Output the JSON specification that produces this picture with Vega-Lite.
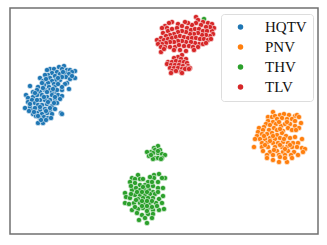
{"$schema":"https://vega.github.io/schema/vega-lite/v6.json","width":308,"height":226,"autosize":"none","padding":{"left":10,"top":8,"right":9,"bottom":11},"background":"white",
"data":{"values":[
{"s":"HQTV","x":50,"y":69},{"s":"HQTV","x":47,"y":70},{"s":"HQTV","x":54,"y":69},{"s":"HQTV","x":59,"y":67},{"s":"HQTV","x":64,"y":66},{"s":"HQTV","x":67,"y":70},{"s":"HQTV","x":70,"y":70},{"s":"HQTV","x":75,"y":71},{"s":"HQTV","x":75,"y":78},{"s":"HQTV","x":72,"y":72},{"s":"HQTV","x":62,"y":69},{"s":"HQTV","x":57,"y":72},{"s":"HQTV","x":52,"y":73},{"s":"HQTV","x":48,"y":75},{"s":"HQTV","x":45,"y":75},{"s":"HQTV","x":40,"y":78},{"s":"HQTV","x":43,"y":81},{"s":"HQTV","x":50,"y":78},{"s":"HQTV","x":55,"y":76},{"s":"HQTV","x":60,"y":74},{"s":"HQTV","x":65,"y":73},{"s":"HQTV","x":69,"y":74},{"s":"HQTV","x":66,"y":77},{"s":"HQTV","x":60,"y":80},{"s":"HQTV","x":56,"y":80},{"s":"HQTV","x":52,"y":81},{"s":"HQTV","x":48,"y":83},{"s":"HQTV","x":44,"y":85},{"s":"HQTV","x":42,"y":83},{"s":"HQTV","x":67,"y":83},{"s":"HQTV","x":65,"y":84},{"s":"HQTV","x":70,"y":79},{"s":"HQTV","x":72,"y":76},{"s":"HQTV","x":62,"y":77},{"s":"HQTV","x":58,"y":78},{"s":"HQTV","x":54,"y":84},{"s":"HQTV","x":49,"y":87},{"s":"HQTV","x":55,"y":87},{"s":"HQTV","x":30,"y":86},{"s":"HQTV","x":38,"y":87},{"s":"HQTV","x":33,"y":92},{"s":"HQTV","x":40,"y":92},{"s":"HQTV","x":37,"y":90},{"s":"HQTV","x":45,"y":90},{"s":"HQTV","x":50,"y":90},{"s":"HQTV","x":47,"y":92},{"s":"HQTV","x":55,"y":92},{"s":"HQTV","x":62,"y":90},{"s":"HQTV","x":69,"y":89},{"s":"HQTV","x":57,"y":90},{"s":"HQTV","x":52,"y":92},{"s":"HQTV","x":26,"y":95},{"s":"HQTV","x":28,"y":98},{"s":"HQTV","x":33,"y":97},{"s":"HQTV","x":37,"y":95},{"s":"HQTV","x":42,"y":95},{"s":"HQTV","x":47,"y":97},{"s":"HQTV","x":52,"y":95},{"s":"HQTV","x":58,"y":95},{"s":"HQTV","x":62,"y":96},{"s":"HQTV","x":60,"y":99},{"s":"HQTV","x":28,"y":102},{"s":"HQTV","x":32,"y":100},{"s":"HQTV","x":35,"y":103},{"s":"HQTV","x":40,"y":100},{"s":"HQTV","x":45,"y":100},{"s":"HQTV","x":50,"y":100},{"s":"HQTV","x":55,"y":100},{"s":"HQTV","x":57,"y":103},{"s":"HQTV","x":25,"y":108},{"s":"HQTV","x":30,"y":107},{"s":"HQTV","x":33,"y":110},{"s":"HQTV","x":38,"y":105},{"s":"HQTV","x":42,"y":105},{"s":"HQTV","x":47,"y":104},{"s":"HQTV","x":52,"y":106},{"s":"HQTV","x":30,"y":104},{"s":"HQTV","x":35,"y":108},{"s":"HQTV","x":40,"y":110},{"s":"HQTV","x":45,"y":109},{"s":"HQTV","x":50,"y":111},{"s":"HQTV","x":55,"y":109},{"s":"HQTV","x":37,"y":113},{"s":"HQTV","x":33,"y":114},{"s":"HQTV","x":42,"y":114},{"s":"HQTV","x":47,"y":113},{"s":"HQTV","x":52,"y":114},{"s":"HQTV","x":61,"y":113},{"s":"HQTV","x":62,"y":114},{"s":"HQTV","x":36,"y":116},{"s":"HQTV","x":40,"y":118},{"s":"HQTV","x":44,"y":117},{"s":"HQTV","x":48,"y":118},{"s":"HQTV","x":51,"y":118},{"s":"HQTV","x":38,"y":123},{"s":"HQTV","x":43,"y":123},{"s":"HQTV","x":46,"y":120},{"s":"HQTV","x":41,"y":120},{"s":"HQTV","x":34,"y":112},{"s":"HQTV","x":29,"y":111},{"s":"HQTV","x":43,"y":88},{"s":"HQTV","x":53,"y":89},{"s":"HQTV","x":35,"y":93},{"s":"HQTV","x":44,"y":97},{"s":"HQTV","x":55,"y":97},{"s":"HQTV","x":37,"y":100},{"s":"HQTV","x":48,"y":102},{"s":"HQTV","x":54,"y":103},{"s":"HQTV","x":40,"y":107},{"s":"HQTV","x":50,"y":108},{"s":"HQTV","x":46,"y":111},{"s":"HQTV","x":38,"y":116},{"s":"HQTV","x":62,"y":87},{"s":"HQTV","x":58,"y":84},{"s":"HQTV","x":46,"y":79},{"s":"HQTV","x":63,"y":72},
{"s":"PNV","x":273,"y":112},{"s":"PNV","x":268,"y":117},{"s":"PNV","x":272,"y":117},{"s":"PNV","x":275,"y":116},{"s":"PNV","x":280,"y":115},{"s":"PNV","x":284,"y":114},{"s":"PNV","x":289,"y":115},{"s":"PNV","x":295,"y":116},{"s":"PNV","x":297,"y":115},{"s":"PNV","x":299,"y":117},{"s":"PNV","x":277,"y":119},{"s":"PNV","x":282,"y":118},{"s":"PNV","x":287,"y":119},{"s":"PNV","x":292,"y":119},{"s":"PNV","x":295,"y":121},{"s":"PNV","x":301,"y":123},{"s":"PNV","x":268,"y":121},{"s":"PNV","x":273,"y":122},{"s":"PNV","x":266,"y":124},{"s":"PNV","x":270,"y":125},{"s":"PNV","x":276,"y":124},{"s":"PNV","x":281,"y":126},{"s":"PNV","x":285,"y":124},{"s":"PNV","x":290,"y":124},{"s":"PNV","x":295,"y":126},{"s":"PNV","x":299,"y":128},{"s":"PNV","x":259,"y":128},{"s":"PNV","x":264,"y":127},{"s":"PNV","x":263,"y":130},{"s":"PNV","x":258,"y":132},{"s":"PNV","x":269,"y":130},{"s":"PNV","x":274,"y":128},{"s":"PNV","x":277,"y":130},{"s":"PNV","x":283,"y":131},{"s":"PNV","x":288,"y":128},{"s":"PNV","x":292,"y":130},{"s":"PNV","x":257,"y":136},{"s":"PNV","x":262,"y":134},{"s":"PNV","x":267,"y":134},{"s":"PNV","x":272,"y":133},{"s":"PNV","x":277,"y":135},{"s":"PNV","x":282,"y":133},{"s":"PNV","x":286,"y":136},{"s":"PNV","x":255,"y":139},{"s":"PNV","x":260,"y":139},{"s":"PNV","x":265,"y":139},{"s":"PNV","x":270,"y":138},{"s":"PNV","x":275,"y":139},{"s":"PNV","x":280,"y":138},{"s":"PNV","x":290,"y":138},{"s":"PNV","x":295,"y":137},{"s":"PNV","x":302,"y":139},{"s":"PNV","x":254,"y":147},{"s":"PNV","x":262,"y":143},{"s":"PNV","x":267,"y":143},{"s":"PNV","x":273,"y":143},{"s":"PNV","x":278,"y":143},{"s":"PNV","x":283,"y":142},{"s":"PNV","x":288,"y":143},{"s":"PNV","x":293,"y":143},{"s":"PNV","x":298,"y":143},{"s":"PNV","x":262,"y":147},{"s":"PNV","x":268,"y":147},{"s":"PNV","x":275,"y":147},{"s":"PNV","x":282,"y":147},{"s":"PNV","x":287,"y":147},{"s":"PNV","x":292,"y":147},{"s":"PNV","x":297,"y":147},{"s":"PNV","x":302,"y":148},{"s":"PNV","x":305,"y":149},{"s":"PNV","x":263,"y":151},{"s":"PNV","x":270,"y":152},{"s":"PNV","x":277,"y":151},{"s":"PNV","x":283,"y":152},{"s":"PNV","x":288,"y":151},{"s":"PNV","x":294,"y":152},{"s":"PNV","x":303,"y":152},{"s":"PNV","x":267,"y":155},{"s":"PNV","x":273,"y":155},{"s":"PNV","x":279,"y":155},{"s":"PNV","x":285,"y":155},{"s":"PNV","x":291,"y":155},{"s":"PNV","x":298,"y":155},{"s":"PNV","x":267,"y":158},{"s":"PNV","x":273,"y":160},{"s":"PNV","x":279,"y":162},{"s":"PNV","x":287,"y":162},{"s":"PNV","x":285,"y":158},{"s":"PNV","x":292,"y":158},{"s":"PNV","x":280,"y":157},{"s":"PNV","x":279,"y":122},{"s":"PNV","x":287,"y":122},{"s":"PNV","x":280,"y":129},{"s":"PNV","x":296,"y":130},{"s":"PNV","x":273,"y":136},{"s":"PNV","x":264,"y":136},{"s":"PNV","x":284,"y":139},{"s":"PNV","x":270,"y":141},{"s":"PNV","x":280,"y":145},{"s":"PNV","x":290,"y":145},{"s":"PNV","x":265,"y":145},{"s":"PNV","x":274,"y":150},{"s":"PNV","x":285,"y":149},
{"s":"THV","x":204,"y":19},{"s":"THV","x":158,"y":146},{"s":"THV","x":154,"y":148},{"s":"THV","x":151,"y":152},{"s":"THV","x":147,"y":152},{"s":"THV","x":155,"y":150},{"s":"THV","x":160,"y":150},{"s":"THV","x":153,"y":153},{"s":"THV","x":158,"y":153},{"s":"THV","x":162,"y":154},{"s":"THV","x":165,"y":155},{"s":"THV","x":149,"y":156},{"s":"THV","x":155,"y":158},{"s":"THV","x":158,"y":158},{"s":"THV","x":162,"y":158},{"s":"THV","x":153,"y":159},{"s":"THV","x":161,"y":159},{"s":"THV","x":158,"y":151},{"s":"THV","x":151,"y":155},{"s":"THV","x":138,"y":175},{"s":"THV","x":159,"y":174},{"s":"THV","x":154,"y":175},{"s":"THV","x":165,"y":178},{"s":"THV","x":162,"y":178},{"s":"THV","x":132,"y":178},{"s":"THV","x":135,"y":179},{"s":"THV","x":140,"y":179},{"s":"THV","x":143,"y":179},{"s":"THV","x":148,"y":182},{"s":"THV","x":154,"y":178},{"s":"THV","x":130,"y":182},{"s":"THV","x":135,"y":183},{"s":"THV","x":140,"y":185},{"s":"THV","x":145,"y":185},{"s":"THV","x":153,"y":186},{"s":"THV","x":158,"y":188},{"s":"THV","x":163,"y":188},{"s":"THV","x":132,"y":190},{"s":"THV","x":136,"y":188},{"s":"THV","x":140,"y":190},{"s":"THV","x":145,"y":190},{"s":"THV","x":149,"y":190},{"s":"THV","x":153,"y":192},{"s":"THV","x":125,"y":193},{"s":"THV","x":135,"y":195},{"s":"THV","x":140,"y":195},{"s":"THV","x":145,"y":195},{"s":"THV","x":150,"y":194},{"s":"THV","x":155,"y":194},{"s":"THV","x":163,"y":196},{"s":"THV","x":126,"y":197},{"s":"THV","x":130,"y":198},{"s":"THV","x":138,"y":199},{"s":"THV","x":143,"y":198},{"s":"THV","x":148,"y":198},{"s":"THV","x":153,"y":198},{"s":"THV","x":159,"y":199},{"s":"THV","x":125,"y":203},{"s":"THV","x":129,"y":204},{"s":"THV","x":134,"y":203},{"s":"THV","x":140,"y":203},{"s":"THV","x":145,"y":203},{"s":"THV","x":150,"y":203},{"s":"THV","x":156,"y":203},{"s":"THV","x":162,"y":203},{"s":"THV","x":132,"y":210},{"s":"THV","x":138,"y":209},{"s":"THV","x":143,"y":208},{"s":"THV","x":148,"y":208},{"s":"THV","x":153,"y":210},{"s":"THV","x":159,"y":210},{"s":"THV","x":164,"y":209},{"s":"THV","x":137,"y":213},{"s":"THV","x":142,"y":215},{"s":"THV","x":148,"y":214},{"s":"THV","x":153,"y":214},{"s":"THV","x":139,"y":220},{"s":"THV","x":145,"y":218},{"s":"THV","x":152,"y":218},{"s":"THV","x":147,"y":223},{"s":"THV","x":158,"y":182},{"s":"THV","x":152,"y":182},{"s":"THV","x":137,"y":192},{"s":"THV","x":142,"y":192},{"s":"THV","x":147,"y":192},{"s":"THV","x":152,"y":201},{"s":"THV","x":142,"y":201},{"s":"THV","x":147,"y":201},{"s":"THV","x":147,"y":206},{"s":"THV","x":152,"y":207},{"s":"THV","x":142,"y":206},{"s":"THV","x":143,"y":187},{"s":"THV","x":148,"y":186},{"s":"THV","x":136,"y":200},{"s":"THV","x":131,"y":194},{"s":"THV","x":135,"y":207},{"s":"THV","x":157,"y":206},{"s":"THV","x":158,"y":192},{"s":"THV","x":147,"y":211},{"s":"THV","x":150,"y":177},{"s":"THV","x":131,"y":186},
{"s":"TLV","x":196,"y":17},{"s":"TLV","x":198,"y":20},{"s":"TLV","x":203,"y":22},{"s":"TLV","x":208,"y":23},{"s":"TLV","x":212,"y":24},{"s":"TLV","x":214,"y":28},{"s":"TLV","x":212,"y":31},{"s":"TLV","x":213,"y":34},{"s":"TLV","x":210,"y":27},{"s":"TLV","x":206,"y":27},{"s":"TLV","x":201,"y":25},{"s":"TLV","x":196,"y":23},{"s":"TLV","x":192,"y":25},{"s":"TLV","x":188,"y":23},{"s":"TLV","x":185,"y":22},{"s":"TLV","x":178,"y":24},{"s":"TLV","x":172,"y":22},{"s":"TLV","x":169,"y":23},{"s":"TLV","x":165,"y":26},{"s":"TLV","x":162,"y":28},{"s":"TLV","x":167,"y":28},{"s":"TLV","x":163,"y":33},{"s":"TLV","x":168,"y":31},{"s":"TLV","x":172,"y":29},{"s":"TLV","x":177,"y":28},{"s":"TLV","x":182,"y":26},{"s":"TLV","x":187,"y":28},{"s":"TLV","x":191,"y":30},{"s":"TLV","x":195,"y":29},{"s":"TLV","x":199,"y":29},{"s":"TLV","x":203,"y":31},{"s":"TLV","x":207,"y":31},{"s":"TLV","x":210,"y":36},{"s":"TLV","x":206,"y":35},{"s":"TLV","x":202,"y":35},{"s":"TLV","x":198,"y":33},{"s":"TLV","x":194,"y":34},{"s":"TLV","x":190,"y":34},{"s":"TLV","x":186,"y":32},{"s":"TLV","x":182,"y":31},{"s":"TLV","x":178,"y":32},{"s":"TLV","x":174,"y":34},{"s":"TLV","x":170,"y":35},{"s":"TLV","x":166,"y":36},{"s":"TLV","x":161,"y":38},{"s":"TLV","x":157,"y":40},{"s":"TLV","x":160,"y":42},{"s":"TLV","x":164,"y":40},{"s":"TLV","x":168,"y":39},{"s":"TLV","x":172,"y":38},{"s":"TLV","x":176,"y":37},{"s":"TLV","x":180,"y":36},{"s":"TLV","x":184,"y":37},{"s":"TLV","x":188,"y":38},{"s":"TLV","x":192,"y":38},{"s":"TLV","x":196,"y":38},{"s":"TLV","x":200,"y":39},{"s":"TLV","x":204,"y":39},{"s":"TLV","x":208,"y":40},{"s":"TLV","x":211,"y":39},{"s":"TLV","x":199,"y":44},{"s":"TLV","x":195,"y":43},{"s":"TLV","x":191,"y":42},{"s":"TLV","x":186,"y":42},{"s":"TLV","x":182,"y":41},{"s":"TLV","x":178,"y":41},{"s":"TLV","x":174,"y":42},{"s":"TLV","x":170,"y":42},{"s":"TLV","x":166,"y":43},{"s":"TLV","x":162,"y":44},{"s":"TLV","x":158,"y":44},{"s":"TLV","x":161,"y":47},{"s":"TLV","x":165,"y":47},{"s":"TLV","x":170,"y":47},{"s":"TLV","x":175,"y":47},{"s":"TLV","x":179,"y":45},{"s":"TLV","x":184,"y":46},{"s":"TLV","x":189,"y":46},{"s":"TLV","x":193,"y":47},{"s":"TLV","x":198,"y":47},{"s":"TLV","x":203,"y":44},{"s":"TLV","x":206,"y":43},{"s":"TLV","x":174,"y":50},{"s":"TLV","x":186,"y":51},{"s":"TLV","x":180,"y":50},{"s":"TLV","x":194,"y":50},{"s":"TLV","x":161,"y":52},{"s":"TLV","x":164,"y":49},{"s":"TLV","x":182,"y":55},{"s":"TLV","x":178,"y":57},{"s":"TLV","x":174,"y":58},{"s":"TLV","x":181,"y":59},{"s":"TLV","x":186,"y":59},{"s":"TLV","x":168,"y":62},{"s":"TLV","x":172,"y":62},{"s":"TLV","x":176,"y":61},{"s":"TLV","x":180,"y":62},{"s":"TLV","x":184,"y":62},{"s":"TLV","x":187,"y":63},{"s":"TLV","x":167,"y":64},{"s":"TLV","x":171,"y":65},{"s":"TLV","x":175,"y":65},{"s":"TLV","x":179,"y":65},{"s":"TLV","x":183,"y":66},{"s":"TLV","x":188,"y":66},{"s":"TLV","x":170,"y":68},{"s":"TLV","x":174,"y":68},{"s":"TLV","x":178,"y":68},{"s":"TLV","x":182,"y":69},{"s":"TLV","x":186,"y":68},{"s":"TLV","x":190,"y":68},{"s":"TLV","x":172,"y":71},{"s":"TLV","x":176,"y":71},{"s":"TLV","x":181,"y":72},{"s":"TLV","x":185,"y":69},{"s":"TLV","x":171,"y":73},{"s":"TLV","x":182,"y":73},{"s":"TLV","x":189,"y":69}
]},
"mark":{"type":"circle","size":27,"opacity":1,"stroke":"white","strokeWidth":0.5},
"encoding":{
"x":{"field":"x","type":"quantitative","scale":{"domain":[10,318]},"axis":null},
"y":{"field":"y","type":"quantitative","scale":{"domain":[234,8]},"axis":null},
"color":{"field":"s","type":"nominal","scale":{"domain":["HQTV","PNV","THV","TLV"],"range":["#1f77b4","#ff7f0e","#2ca02c","#d62728"]},
"legend":{"title":null,"orient":"none","legendX":211,"legendY":6,"fillColor":"rgba(255,255,255,0.8)","strokeColor":"#dddddd","cornerRadius":3,"padding":6,"symbolType":"circle","symbolSize":30,"symbolStrokeWidth":0,"labelFont":"Liberation Serif","labelFontSize":15,"labelColor":"#111111","labelOffset":17,"rowPadding":5,"symbolOffset":6,"clipHeight":14}}
},
"config":{"view":{"stroke":"#707070","strokeWidth":1.5}}}
